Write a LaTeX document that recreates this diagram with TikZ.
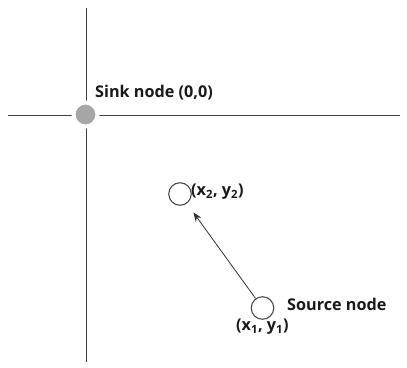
\documentclass[tikz,border=0pt]{standalone}
\usepackage{fontspec}
\setmainfont{Open Sans}
\usetikzlibrary{arrows.meta}
\begin{document}
\begin{tikzpicture}[x=1pt,y=-1pt,
  axis/.style={draw=black!75,line width=1pt},
  hollow/.style={circle,draw=black!70,line width=1.1pt,fill=white,minimum size=22.5pt,inner sep=0pt},
  sink/.style={circle,draw=white,line width=4pt,fill=black!35,minimum size=24pt,inner sep=0pt},
  lbl/.style={font=\bfseries\fontsize{16.2}{18}\selectfont,inner sep=0pt,text=black!90},
  arr/.style={draw=black!80,line width=0.8pt,shorten >=11pt,-{Stealth[length=9pt,width=7pt]}}]
\useasboundingbox (0,0) rectangle (407,367);
\coordinate (vt) at (86,8);
\coordinate (vb) at (86,362);
\coordinate (hl) at (8,115);
\coordinate (hr) at (400,115);
\draw[axis] (vt) -- (vb);
\draw[axis] (hl) -- (hr);
\node[sink] (s) at (85.5,114.5) {};
\node[lbl,anchor=west] (sl) at (95,93) {Sink node (0,0)};
\node[hollow] (p2) at (180,194) {};
\node[lbl,anchor=west] (l2) at (191,192) {(x\textsubscript{2}, y\textsubscript{2})};
\node[hollow] (p1) at (262.5,308) {};
\node[lbl,anchor=west] (l1) at (287,304) {Source node};
\node[lbl,anchor=west] (l1b) at (236,327) {(x\textsubscript{1}, y\textsubscript{1})};
\draw[arr] (p1) -- (p2);
\end{tikzpicture}
\end{document}
